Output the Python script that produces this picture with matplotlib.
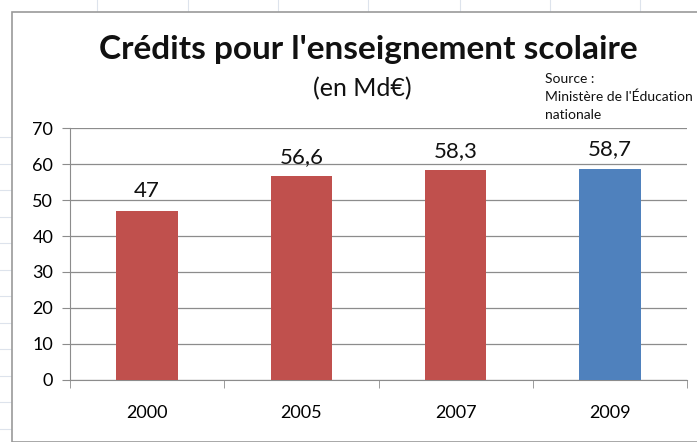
import numpy as np
import matplotlib.pyplot as plt
from matplotlib.patches import Rectangle

years = ['2000', '2005', '2007', '2009']
credits = [47, 56.6, 58.3, 58.7]
labels = ['47', '56,6', '58,3', '58,7']
colors = ['#c0504d', '#c0504d', '#c0504d', '#4f81bd']

plt.rcParams['font.family'] = ['Lato', 'DejaVu Sans']

fig = plt.figure(figsize=(6.97, 4.42), dpi=100)
W, H = 697, 442

# faint spreadsheet cells behind the chart
for x in [97, 188, 278, 368, 460, 550, 640]:
    fig.add_artist(plt.Line2D([x / W, x / W], [1, 1 - 12 / H], color='#dde3ec', lw=0.8, zorder=-2))
for y in np.arange(137, 442, 26.5):
    fig.add_artist(plt.Line2D([0, 12 / W], [1 - y / H, 1 - y / H], color='#dde3ec', lw=0.8, zorder=-2))
fig.add_artist(Rectangle((12 / W, 0), 1, 1 - 12 / H, transform=fig.transFigure,
                         facecolor='white', edgecolor='#9a9a9a', lw=1.2, zorder=-1))

ax = fig.add_axes([70 / W, 1 - 380 / H, (687 - 70) / W, (380 - 128) / H])
ax.set_facecolor('none')
x = np.arange(len(years))
ax.bar(x, credits, width=0.4, color=colors, zorder=3)
for xi, v, lab in zip(x, credits, labels):
    ax.text(xi, v + 2.6, lab, ha='center', va='bottom', fontsize=16, color='#111111')

ax.set_xlim(-0.5, len(years) - 0.5)
ax.set_ylim(0, 70)
ax.set_yticks(range(0, 71, 10))
ax.set_xticks(x)
ax.set_xticklabels(years)
ax.set_xticks(np.arange(-0.5, len(years), 1), minor=True)
ax.grid(axis='y', color='#8c8c8c', lw=0.9, zorder=0)
for s in ['top', 'right']:
    ax.spines[s].set_visible(False)
for s in ['left', 'bottom']:
    ax.spines[s].set_color('#8c8c8c')
ax.tick_params(axis='y', length=6, color='#8c8c8c', labelsize=13, pad=6)
ax.tick_params(axis='x', which='major', length=0, labelsize=13, pad=18)
ax.tick_params(axis='x', which='minor', length=6, color='#8c8c8c')

fig.text(368 / W, 1 - 50 / H, "Crédits pour l'enseignement scolaire",
         ha='center', va='center', fontsize=24, fontweight='bold', color='#111111')
fig.text(362 / W, 1 - 89 / H, '(en Md€)', ha='center', va='center', fontsize=18, color='#111111')
fig.text(545 / W, 1 - 97 / H, "Source :\nMinistère de l'Éducation\nnationale",
         ha='left', va='center', fontsize=10, linespacing=1.55, color='#111111')

fig.savefig('out.png', dpi=100)
